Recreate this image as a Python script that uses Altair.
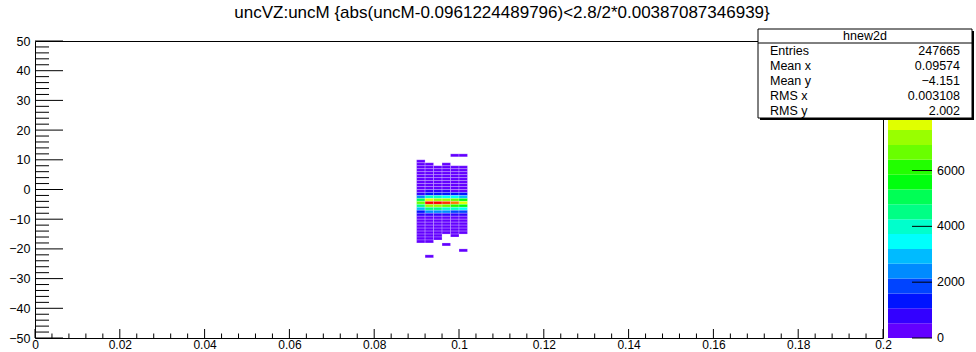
import altair as alt
import pandas as pd
import numpy as np

# ---------------------------------------------------------------------------
# Histogram content: uncVZ (y) versus uncM (x), 2D bins of 0.002 x 1
# ---------------------------------------------------------------------------
X_BIN_STARTS = [0.090, 0.092, 0.094, 0.096, 0.098, 0.100]
X_BIN_WIDTH = 0.002
Y_BIN_STARTS = list(range(11, -24, -1))  # bin lower edges, top row first
Y_BIN_WIDTH = 1

# entries per bin, one list per uncM column, rows follow Y_BIN_STARTS
COUNTS_090 = [0, 0, 2, 3, 4, 7, 12, 20, 33, 55, 90, 160, 390, 980, 2600, 4900, 6800, 4700,
              2900, 1500, 650, 300, 150, 85, 50, 30, 16, 9, 5, 2, 0, 0, 0, 0, 0]
COUNTS_092 = [0, 0, 0, 3, 6, 10, 18, 30, 50, 85, 140, 240, 600, 1500, 4000, 7600, 10450, 7200,
              4500, 2300, 1000, 450, 230, 130, 75, 45, 25, 14, 7, 3, 0, 0, 0, 0, 1]
COUNTS_094 = [0, 0, 0, 0, 4, 9, 17, 29, 48, 82, 135, 235, 580, 1460, 3900, 7400, 10150, 7000,
              4350, 2230, 970, 440, 225, 125, 72, 43, 24, 13, 6, 0, 0, 0, 0, 0, 0]
COUNTS_096 = [0, 0, 0, 3, 5, 9, 16, 28, 46, 79, 130, 225, 560, 1400, 3700, 7100, 9750, 6700,
              4200, 2150, 930, 420, 215, 120, 70, 40, 22, 0, 0, 0, 1, 0, 0, 0, 0]
COUNTS_098 = [1, 0, 0, 0, 5, 9, 15, 26, 43, 74, 122, 210, 520, 1300, 3450, 6600, 9100, 6300,
              3900, 2000, 870, 390, 200, 110, 65, 38, 20, 10, 0, 0, 0, 0, 0, 0, 0]
COUNTS_100 = [1, 0, 0, 0, 4, 7, 13, 22, 37, 63, 104, 180, 445, 1110, 2950, 5650, 7750, 5350,
              3350, 1700, 740, 330, 170, 95, 55, 32, 17, 0, 0, 0, 0, 0, 1, 0, 0]
COLUMNS = [COUNTS_090, COUNTS_092, COUNTS_094, COUNTS_096, COUNTS_098, COUNTS_100]

Z_MAX = 10640          # top of the colour axis
N_CONTOURS = 20        # number of colour levels

# axis tick values
X_MAJOR = [0, 0.02, 0.04, 0.06, 0.08, 0.1, 0.12, 0.14, 0.16, 0.18, 0.2]
Y_MAJOR = [-50, -40, -30, -20, -10, 0, 10, 20, 30, 40, 50]
Z_MAJOR = [0, 2000, 4000, 6000, 8000, 10000]

TITLE = "uncVZ:uncM {abs(uncM-0.0961224489796)<2.8/2*0.00387087346939}"
STATS_NAME = "hnew2d"
STAT_LABELS = ["Entries", "Mean x", "Mean y", "RMS x", "RMS y"]
STAT_VALUES = ["247665", "0.09574", "\u22124.151", "0.003108", "2.002"]

# violet -> red rainbow, one colour per contour level
PALETTE = ["#6300ff", "#3300ff", "#0014ff", "#0044ff", "#008bff", "#00bbff", "#00fffc",
           "#00ffcc", "#00ff85", "#00ff55", "#00ff0e", "#22ff00", "#69ff00", "#99ff00",
           "#e0ff00", "#ffee00", "#ffa700", "#ff7700", "#ff3000", "#ff0000"]

FONT = "Liberation Sans"
W, H = 848, 297

# ---------------------------------------------------------------------------
# tables
# ---------------------------------------------------------------------------
rows = []
for x0, col in zip(X_BIN_STARTS, COLUMNS):
    for y0, n in zip(Y_BIN_STARTS, col):
        if n > 0:
            rows.append({"x0": x0, "x1": x0 + X_BIN_WIDTH, "y0": y0, "y1": y0 + Y_BIN_WIDTH, "n": n})
cells_df = pd.DataFrame(rows)

x_minor = [round(v, 4) for v in np.arange(0, 0.2001, 0.004) if round(v / 0.02, 6) % 1 != 0]
y_minor = [v for v in range(-50, 51, 2) if v % 10 != 0]
xmaj_df = pd.DataFrame({"x0": X_MAJOR})
xmin_df = pd.DataFrame({"x0": x_minor})
ymaj_df = pd.DataFrame({"y0": Y_MAJOR})
ymin_df = pd.DataFrame({"y0": y_minor})

step = Z_MAX / N_CONTOURS
bands_df = pd.DataFrame({
    "lo": [i * step for i in range(N_CONTOURS)],
    "hi": [(i + 1) * step for i in range(N_CONTOURS)],
})
bands_df["mid"] = (bands_df["lo"] + bands_df["hi"]) / 2
zticks_df = pd.DataFrame({"lo": Z_MAJOR, "label": [str(v) for v in Z_MAJOR]})

stats_df = pd.DataFrame({
    "name": STAT_LABELS,
    "value": STAT_VALUES,
    "py": [2 + 15 * (i + 0.5) for i in range(len(STAT_LABELS))],
})
one = pd.DataFrame({"k": [0]})

# ---------------------------------------------------------------------------
# scales and axes
# ---------------------------------------------------------------------------
x_scale = alt.Scale(domain=[0, 0.2], nice=False, zero=False)
y_scale = alt.Scale(domain=[-50, 50], nice=False, zero=False)
z_scale = alt.Scale(type="quantize", domain=[0, Z_MAX], range=PALETTE)
zy_scale = alt.Scale(domain=[0, Z_MAX], nice=False, zero=False)

x_axis = alt.Axis(values=X_MAJOR, format="~g", ticks=False, grid=False, domain=False,
                  labelFont=FONT, labelFontSize=12, labelColor="black",
                  labelPadding=1, labelFlush=False, labelOverlap=False, title=None)
y_axis = alt.Axis(values=Y_MAJOR, format="d", ticks=False, grid=False, domain=False,
                  labelFont=FONT, labelFontSize=12.5, labelColor="black",
                  labelPadding=5, labelFlush=False, labelOverlap=False, title=None)

# ---------------------------------------------------------------------------
# main 2D histogram with inward ticks
# ---------------------------------------------------------------------------
cells = alt.Chart(cells_df).mark_rect(stroke="white", strokeWidth=0.5, strokeOpacity=0.45).encode(
    x=alt.X("x0:Q", scale=x_scale, axis=x_axis),
    x2="x1:Q",
    y=alt.Y("y0:Q", scale=y_scale, axis=y_axis),
    y2="y1:Q",
    color=alt.Color("n:Q", scale=z_scale, legend=None),
)

x_major_ticks = alt.Chart(xmaj_df).mark_rule(color="black", strokeWidth=1).encode(
    x=alt.X("x0:Q", scale=x_scale, axis=x_axis), y=alt.value(H), y2=alt.value(H - 9))
x_minor_ticks = alt.Chart(xmin_df).mark_rule(color="black", strokeWidth=1).encode(
    x=alt.X("x0:Q", scale=x_scale, axis=x_axis), y=alt.value(H), y2=alt.value(H - 4.5))
y_major_ticks = alt.Chart(ymaj_df).mark_rule(color="black", strokeWidth=1).encode(
    y=alt.Y("y0:Q", scale=y_scale, axis=y_axis), x=alt.value(0), x2=alt.value(28))
y_minor_ticks = alt.Chart(ymin_df).mark_rule(color="black", strokeWidth=1).encode(
    y=alt.Y("y0:Q", scale=y_scale, axis=y_axis), x=alt.value(0), x2=alt.value(14))

main = alt.layer(cells, x_major_ticks, x_minor_ticks, y_major_ticks, y_minor_ticks)

# ---------------------------------------------------------------------------
# colour palette axis on the right
# ---------------------------------------------------------------------------
CB_X0, CB_X1 = 853, 897
cbar_rects = alt.Chart(bands_df).mark_rect().encode(
    y=alt.Y("lo:Q", scale=zy_scale, axis=None), y2="hi:Q",
    x=alt.value(CB_X0), x2=alt.value(CB_X1),
    color=alt.Color("mid:Q", scale=z_scale, legend=None),
)
cbar_ticks = alt.Chart(zticks_df).mark_rule(color="black", strokeWidth=1).encode(
    y=alt.Y("lo:Q", scale=zy_scale, axis=None), x=alt.value(CB_X1 - 20), x2=alt.value(CB_X1))
cbar_labels = alt.Chart(zticks_df).mark_text(
    font=FONT, fontSize=12.5, align="left", baseline="middle", color="black"
).encode(y=alt.Y("lo:Q", scale=zy_scale, axis=None), x=alt.value(CB_X1 + 5), text="label:N")

cbar = alt.layer(cbar_rects, cbar_ticks, cbar_labels)

# ---------------------------------------------------------------------------
# statistics box and title
# ---------------------------------------------------------------------------
BX0, BX1, BY0, BY1 = 723, 937, -12, 77
box_shadow = alt.Chart(one).mark_rect(fill="black").encode(
    x=alt.value(BX0 + 2), x2=alt.value(BX1 + 2), y=alt.value(BY0 + 2), y2=alt.value(BY1 + 2))
box = alt.Chart(one).mark_rect(fill="white", stroke="black", strokeWidth=1).encode(
    x=alt.value(BX0), x2=alt.value(BX1), y=alt.value(BY0), y2=alt.value(BY1))
box_line = alt.Chart(one).mark_rule(color="black", strokeWidth=1).encode(
    x=alt.value(BX0), x2=alt.value(BX1), y=alt.value(2))
box_title = alt.Chart(one).mark_text(
    font=FONT, fontSize=12.5, align="center", baseline="middle", color="black", text=STATS_NAME
).encode(x=alt.value((BX0 + BX1) / 2), y=alt.value(-5))
stat_names = alt.Chart(stats_df).mark_text(
    font=FONT, fontSize=12.5, align="left", baseline="middle", color="black"
).encode(x=alt.value(BX0 + 12), y=alt.Y("py:Q", scale=None), text="name:N")
stat_values = alt.Chart(stats_df).mark_text(
    font=FONT, fontSize=12.5, align="right", baseline="middle", color="black"
).encode(x=alt.value(BX1 - 12), y=alt.Y("py:Q", scale=None), text="value:N")

title = alt.Chart(one).mark_text(
    font=FONT, fontSize=17, align="center", baseline="middle", color="black", text=TITLE
).encode(x=alt.value(467), y=alt.value(-28))

stats = alt.layer(box_shadow, box, box_line, box_title, stat_names, stat_values, title)

chart = alt.layer(main, cbar, stats).resolve_scale(y="independent").properties(
    width=W, height=H,
    autosize=alt.AutoSizeParams(type="none"),
    padding={"left": 35, "top": 41, "right": 93, "bottom": 14},
    background="white",
).configure_view(stroke="black", strokeWidth=1)

chart.save("out.html", embed_options={"renderer": "svg", "actions": False})
